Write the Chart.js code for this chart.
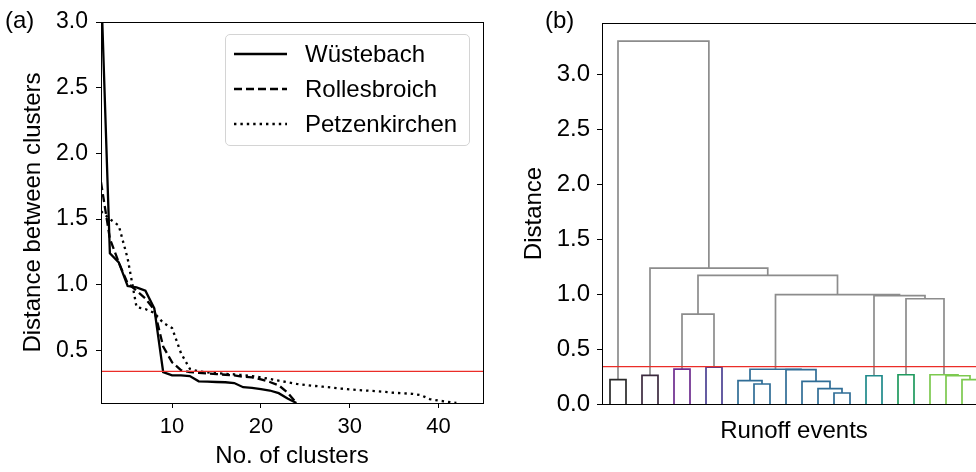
<!DOCTYPE html>
<html>
<head>
<meta charset="utf-8">
<script src="https://cdn.jsdelivr.net/npm/chart.js@4.4.1/dist/chart.umd.min.js"></script>
<style>
  html, body { margin: 0; padding: 0; background: #fff; overflow: hidden; }
  #wrap { position: relative; width: 976px; height: 472px; overflow: hidden;
          font-family: "Liberation Sans", Arial, sans-serif; color: #000; }
  #chartA { position: absolute; left: 0; top: 0; }
  #chartB { position: absolute; left: 500px; top: 0; }
  .tag { position: absolute; font-size: 24px; line-height: 28px; }
  #legend { position: absolute; left: 225px; top: 34px; width: 243px; height: 110px;
            border: 1.5px solid #d4d4d4; border-radius: 5px; background: rgba(255,255,255,0.8); }
  #legend .row { position: absolute; left: 8px; height: 24px; display: flex; align-items: center;
                 font-size: 24px; white-space: nowrap; }
  #legend .row span { margin-left: 18px; }
</style>
</head>
<body>
<div id="wrap">
  <canvas id="chartA" width="500" height="472"></canvas>
  <canvas id="chartB" width="500" height="472"></canvas>
  <div class="tag" style="left:5px; top:6px;">(a)</div>
  <div class="tag" style="left:545px; top:6px;">(b)</div>
  <div id="legend"></div>
</div>
<script>
// ---------- panel (a): distance between merged clusters ----------
const firstClusterCount = 2;
const wuestebach = [3.30, 1.24, 1.17, 0.99, 0.98, 0.955, 0.82, 0.335, 0.31, 0.31, 0.305, 0.265,
  0.262, 0.26, 0.258, 0.252, 0.22, 0.215, 0.205, 0.195, 0.175, 0.135, 0.1];
const rollesbroich = [1.78, 1.35, 1.17, 1.01, 0.955, 0.895, 0.81, 0.53, 0.41, 0.35, 0.335, 0.33,
  0.325, 0.32, 0.315, 0.31, 0.30, 0.295, 0.28, 0.26, 0.235, 0.18, 0.1];
const petzenkirchen = [1.56, 1.50, 1.45, 1.20, 0.83, 0.815, 0.785, 0.71, 0.67, 0.48, 0.36, 0.34,
  0.333, 0.327, 0.322, 0.318, 0.312, 0.305, 0.295, 0.283, 0.27, 0.258, 0.246, 0.238, 0.23, 0.224,
  0.217, 0.21, 0.204, 0.198, 0.194, 0.19, 0.184, 0.178, 0.174, 0.17, 0.16, 0.13, 0.118, 0.11, 0.1];
const threshold = 0.34;
const xTicksA = [10, 20, 30, 40];
const yTicksA = [0.5, 1.0, 1.5, 2.0, 2.5, 3.0];

// ---------- panel (b): dendrogram of Wüstebach runoff events ----------
const leafCount = 24;
// ids >= leafCount refer to earlier merges (scipy linkage style)
const linkLeft   = [14, 13, 9, 12, 8, 0, 22, 16, 21, 2, 18, 20, 11, 28, 4, 6, 38, 34, 31, 37, 40, 33, 29];
const linkRight  = [15, 24, 10, 25, 26, 1, 23, 17, 30, 3, 19, 32, 27, 36, 5, 7, 39, 35, 41, 42, 43, 44, 45];
const linkHeight = [0.100, 0.139, 0.182, 0.206, 0.212, 0.221, 0.221, 0.257, 0.257, 0.260, 0.266, 0.266,
  0.312, 0.316, 0.318, 0.335, 0.818, 0.957, 0.985, 0.994, 1.169, 1.236, 3.300];
const linkGroup  = ['blue', 'blue', 'blue', 'blue', 'blue', 'black', 'lime', 'teal', 'lime', 'dark', 'green', 'lime',
  'blue', 'blue', 'purple', 'indigo', 'above', 'above', 'above', 'above', 'above', 'above', 'above'];
const yTicksB = [0.0, 0.5, 1.0, 1.5, 2.0, 2.5, 3.0];

const groupColours = {
  black: '#2a2a2a', dark: '#3b2a3e', purple: '#6d2c8e', indigo: '#4b4193',
  blue: '#2f6d96', teal: '#1f8a8b', green: '#1f9a5e', lime: '#7cc94f', above: '#8c8c8c'
};
const thresholdColour = 'rgb(235, 45, 40)';

Chart.defaults.font.family = '"Liberation Sans", Arial, sans-serif';
Chart.defaults.color = '#000';

const framePlugin = {
  id: 'frame',
  afterDraw(chart) {
    const a = chart.chartArea, ctx = chart.ctx;
    ctx.save();
    ctx.strokeStyle = '#000';
    ctx.lineWidth = 1;
    ctx.strokeRect(Math.round(a.left) + 0.5, Math.round(a.top) + 0.5,
      Math.round(a.right - a.left), Math.round(a.bottom - a.top));
    ctx.restore();
  }
};

function toPoints(values) {
  return values.map((v, i) => ({ x: firstClusterCount + i, y: v }));
}

function series(label, values, dash) {
  return { label: label, data: toPoints(values), borderDash: dash, pointRadius: 0, borderColor: '#000',
    borderWidth: 2.3, showLine: true, fill: false, tension: 0, borderCapStyle: 'butt' };
}

const chartA = new Chart(document.getElementById('chartA'), {
  type: 'scatter',
  data: {
    datasets: [
      { data: [{ x: 2, y: threshold }, { x: 45, y: threshold }], showLine: true, pointRadius: 0,
        borderColor: thresholdColour, backgroundColor: thresholdColour, borderWidth: 1.2 },
      series('Wüstebach', wuestebach, []),
      series('Rollesbroich', rollesbroich, [8, 4]),
      series('Petzenkirchen', petzenkirchen, [2.4, 4])
    ]
  },
  options: {
    responsive: false,
    animation: false,
    layout: { padding: { left: 0, right: 17, top: 22, bottom: 0 } },
    plugins: { legend: { display: false }, tooltip: { enabled: false } },
    scales: {
      x: {
        type: 'linear', min: 2, max: 45,
        afterFit: s => { s.height = 69; },
        afterBuildTicks: s => { s.ticks = xTicksA.map(v => ({ value: v })); },
        grid: { display: true, drawOnChartArea: false, tickLength: 5, color: '#000' },
        border: { color: '#000', width: 1 },
        ticks: { font: { size: 22 }, padding: 6, maxRotation: 0, autoSkip: false },
        title: { display: true, text: 'No. of clusters', font: { size: 24 }, padding: { top: 0, bottom: 1 } }
      },
      y: {
        type: 'linear', min: 0.1, max: 3.0,
        afterFit: s => { s.width = 101; },
        afterBuildTicks: s => { s.ticks = yTicksA.map(v => ({ value: v })); },
        grid: { display: true, drawOnChartArea: false, tickLength: 5, color: '#000' },
        border: { color: '#000', width: 1 },
        ticks: { font: { size: 23 }, padding: 8, autoSkip: false, callback: v => v.toFixed(1) },
        title: { display: true, text: 'Distance between clusters', font: { size: 24 }, padding: { top: 19, bottom: 0 } }
      }
    }
  },
  plugins: [framePlugin]
});

// legend built from the chart's own datasets
const legendBox = document.getElementById('legend');
chartA.data.datasets.filter(d => d.label).forEach((d, i) => {
  const row = document.createElement('div');
  row.className = 'row';
  row.style.top = (7 + i * 35) + 'px';
  row.innerHTML = '<svg width="53" height="6"><line x1="0" y1="3" x2="53" y2="3" stroke="' + d.borderColor +
    '" stroke-width="' + d.borderWidth + '" stroke-dasharray="' + (d.borderDash || []).join(' ') +
    '"/></svg><span>' + d.label + '</span>';
  legendBox.appendChild(row);
});

// dendrogram segments from the linkage
const nodeX = [], nodeY = [];
for (let i = 0; i < leafCount; i++) { nodeX.push(5 + 10 * i); nodeY.push(0); }
const linkSets = [];
linkLeft.forEach((a, k) => {
  const b = linkRight[k], h = linkHeight[k];
  linkSets.push({
    data: [{ x: nodeX[a], y: nodeY[a] }, { x: nodeX[a], y: h }, { x: nodeX[b], y: h }, { x: nodeX[b], y: nodeY[b] }],
    showLine: true, pointRadius: 0, borderColor: groupColours[linkGroup[k]], borderWidth: 1.7, tension: 0
  });
  nodeX.push((nodeX[a] + nodeX[b]) / 2);
  nodeY.push(h);
});

new Chart(document.getElementById('chartB'), {
  type: 'scatter',
  data: {
    datasets: [
      { data: [{ x: 0, y: threshold }, { x: leafCount * 10, y: threshold }], showLine: true, pointRadius: 0,
        borderColor: thresholdColour, backgroundColor: thresholdColour, borderWidth: 1.2 }
    ].concat(linkSets)
  },
  options: {
    responsive: false,
    animation: false,
    layout: { padding: { left: 0, right: 14, top: 23, bottom: 0 } },
    plugins: { legend: { display: false }, tooltip: { enabled: false } },
    scales: {
      x: {
        type: 'linear', min: 0, max: leafCount * 10,
        afterFit: s => { s.height = 68; },
        grid: { display: false },
        border: { color: '#000', width: 1 },
        ticks: { display: false },
        title: { display: true, text: 'Runoff events', font: { size: 24 }, padding: { top: 0, bottom: 26 } }
      },
      y: {
        type: 'linear', min: 0, max: 3.465,
        afterFit: s => { s.width = 102; },
        afterBuildTicks: s => { s.ticks = yTicksB.map(v => ({ value: v })); },
        grid: { display: true, drawOnChartArea: false, tickLength: 5, color: '#000' },
        border: { color: '#000', width: 1 },
        ticks: { font: { size: 24 }, padding: 7, autoSkip: false, callback: v => v.toFixed(1) },
        title: { display: true, text: 'Distance', font: { size: 24 }, padding: { top: 20, bottom: 0 } }
      }
    }
  },
  plugins: [framePlugin]
});
</script>
</body>
</html>
